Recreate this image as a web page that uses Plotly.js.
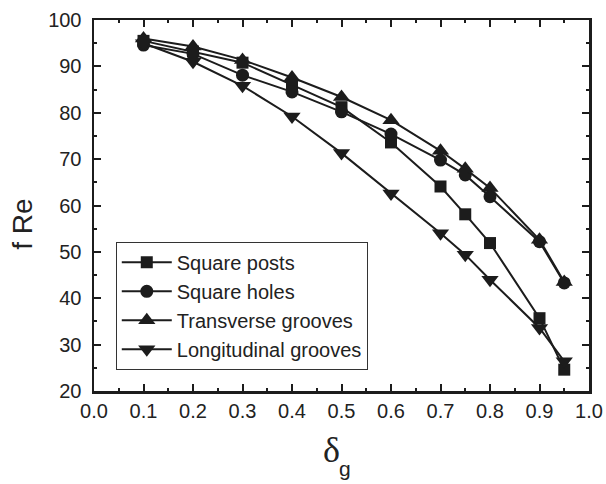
<!DOCTYPE html>
<html>
<head>
<meta charset="utf-8">
<script src="https://cdn.plot.ly/plotly-3.0.1.min.js"></script>
<style>
  html, body { margin: 0; padding: 0; background: #fff; }
  #chart { width: 606px; height: 484px; }
</style>
</head>
<body>
<div id="chart"></div>
<script>
// Groove fraction δg
const deltaG = [0.1, 0.2, 0.3, 0.4, 0.5, 0.6, 0.7, 0.75, 0.8, 0.9, 0.95];

// Poiseuille number f·Re for each surface pattern
const squarePosts         = [95.5, 93.2, 90.8, 86.0, 81.2, 73.6, 64.1, 58.1, 51.9, 35.7, 24.6];
const squareHoles         = [94.6, 92.7, 88.1, 84.5, 80.2, 75.4, 69.8, 66.6, 61.9, 52.2, 43.3];
const transverseGrooves   = [96.0, 94.3, 91.4, 87.6, 83.4, 78.4, 71.8, 67.9, 63.8, 52.6, 43.5];
const longitudinalGrooves = [95.0, 91.0, 85.8, 79.2, 71.3, 62.6, 54.0, 49.4, 44.0, 33.6, 26.4];

const seriesNames = ['Square posts', 'Square holes', 'Transverse grooves', 'Longitudinal grooves'];
const seriesData  = [squarePosts, squareHoles, transverseGrooves, longitudinalGrooves];
const symbols     = ['square', 'circle', 'triangle-up', 'triangle-down'];
const markerSizes = [12, 13, 15, 15];

const ink = '#1c1c1c';
const sans = 'Liberation Sans, Arial, sans-serif';

const traces = seriesData.map((ys, i) => ({
  x: deltaG,
  y: ys,
  name: seriesNames[i],
  type: 'scatter',
  mode: 'lines+markers',
  line: { color: ink, width: 2 },
  marker: { symbol: symbols[i], size: markerSizes[i], color: ink, line: { width: 0 } }
}));

const axisCommon = {
  showgrid: false,
  zeroline: false,
  showline: true,
  linecolor: ink,
  linewidth: 2.5,
  mirror: 'allticks',
  ticks: 'inside',
  ticklen: 7,
  tickwidth: 2,
  tickcolor: ink,
  tickfont: { family: sans, size: 20, color: '#222' }
};

const layout = {
  width: 606,
  height: 484,
  margin: { l: 94, r: 17, t: 20, b: 93 },
  paper_bgcolor: '#fff',
  plot_bgcolor: '#fff',
  showlegend: true,
  xaxis: Object.assign({}, axisCommon, {
    range: [0, 1],
    dtick: 0.1,
    tick0: 0,
    tickformat: '.1f',
    minor: { dtick: 0.05, ticks: 'inside', ticklen: 3, tickwidth: 2, tickcolor: ink }
  }),
  yaxis: Object.assign({}, axisCommon, {
    range: [20, 100],
    dtick: 10,
    tick0: 20,
    ticklabelstandoff: 6,
    minor: { dtick: 5, ticks: 'inside', ticklen: 3, tickwidth: 2, tickcolor: ink }
  }),
  legend: {
    x: 0.044, y: 0.402,
    xanchor: 'left', yanchor: 'top',
    bgcolor: '#fff',
    bordercolor: '#333',
    borderwidth: 1,
    itemwidth: 50,
    tracegroupgap: 0,
    font: { family: sans, size: 20, color: '#222' }
  },
  annotations: [
    {
      text: 'f Re',
      xref: 'paper', yref: 'paper',
      x: -0.146, y: 0.45,
      xanchor: 'center', yanchor: 'middle',
      textangle: -90,
      showarrow: false,
      font: { family: sans, size: 28, color: '#222' }
    },
    {
      text: 'δ',
      xref: 'paper', yref: 'paper',
      x: 0.479, y: -0.159,
      xanchor: 'center', yanchor: 'middle',
      showarrow: false,
      font: { family: 'Liberation Serif, serif', size: 36, color: '#222' }
    },
    {
      text: 'g',
      xref: 'paper', yref: 'paper',
      x: 0.507, y: -0.208,
      xanchor: 'center', yanchor: 'middle',
      showarrow: false,
      borderpad: 0,
      font: { family: sans, size: 21, color: '#222' }
    }
  ]
};

Plotly.newPlot('chart', traces, layout, { displayModeBar: false, staticPlot: true });
</script>
</body>
</html>
